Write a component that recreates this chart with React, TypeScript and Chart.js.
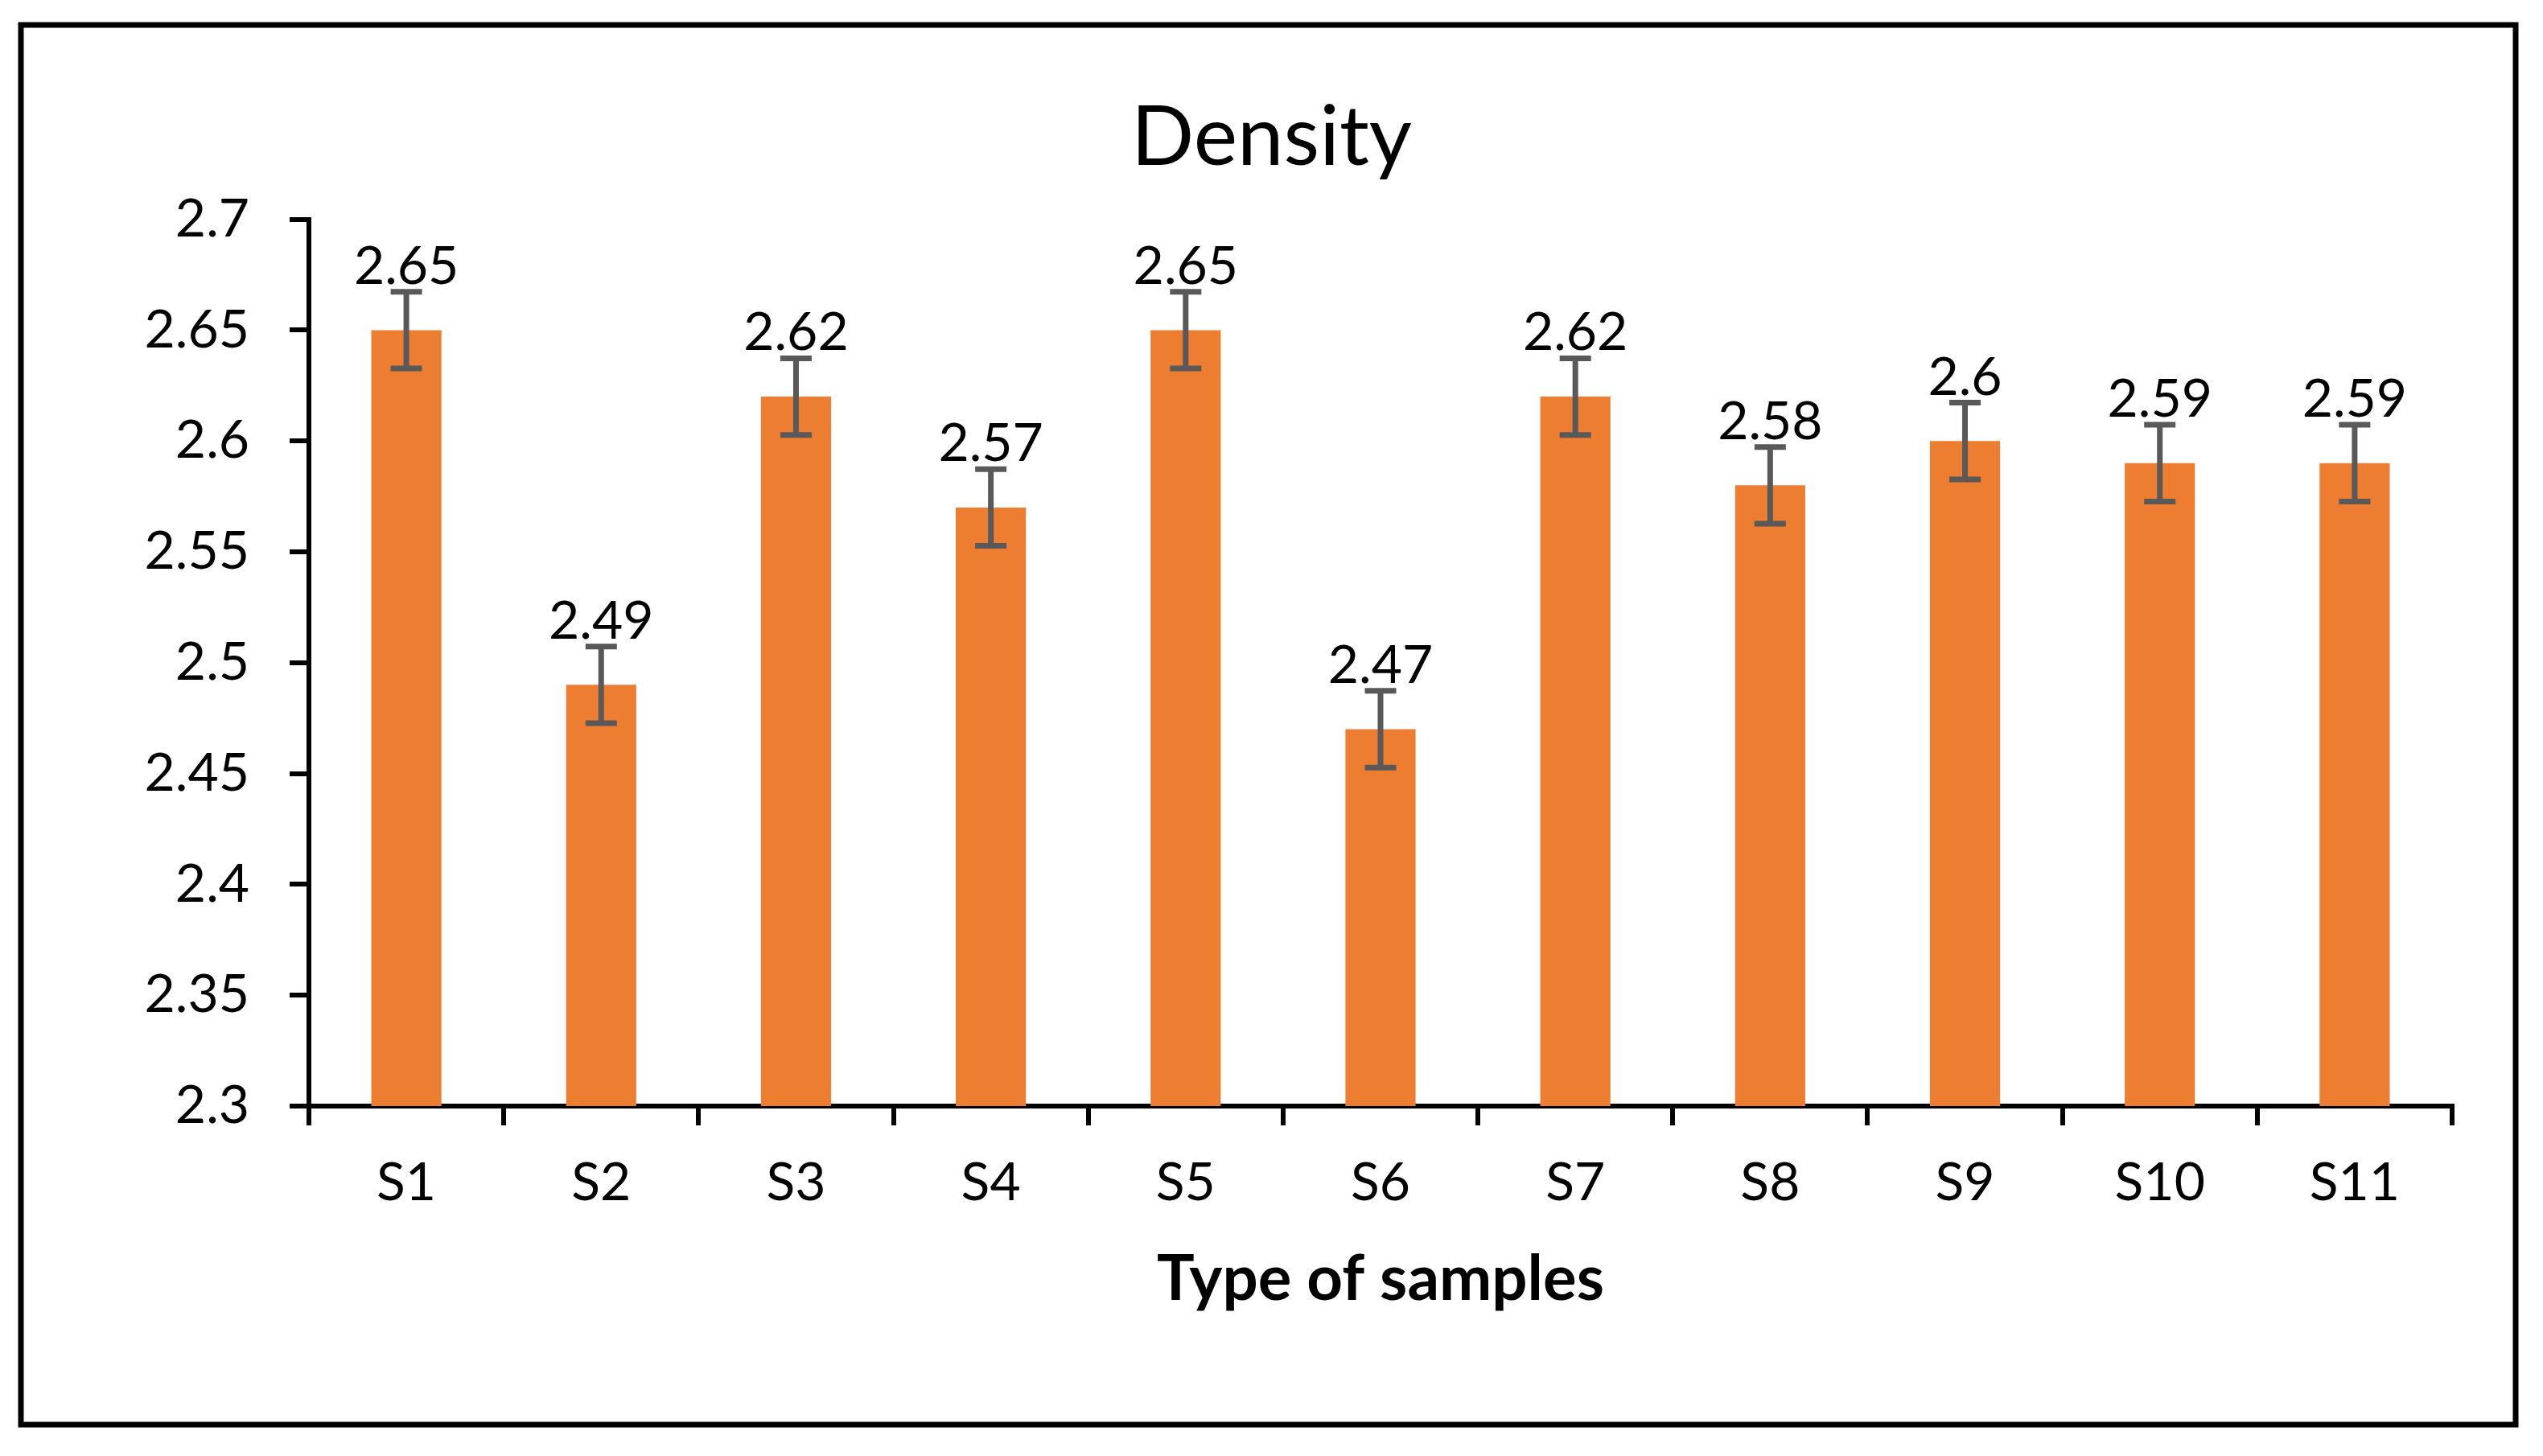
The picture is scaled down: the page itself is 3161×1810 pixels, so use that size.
import React, { useEffect, useRef } from "react";
import { Chart, registerables } from "chart.js";

Chart.register(...registerables);

const categories = ["S1", "S2", "S3", "S4", "S5", "S6", "S7", "S8", "S9", "S10", "S11"];
const densityValues = [2.65, 2.49, 2.62, 2.57, 2.65, 2.47, 2.62, 2.58, 2.6, 2.59, 2.59];
const errorValues = [0.0173, 0.0173, 0.0173, 0.0173, 0.0173, 0.0173, 0.0173, 0.0173, 0.0173, 0.0173, 0.0173];
const yMin = 2.3;
const yMax = 2.7;
const yStep = 0.05;
const chartTitle = "Density";
const xAxisTitle = "Type of samples";

const FONT = "Lato, 'Open Sans', sans-serif";

const errorBarPlugin = {
  id: "errorBars",
  afterDatasetsDraw(chart: any) {
    const ctx = chart.ctx;
    const meta = chart.getDatasetMeta(0);
    const y = chart.scales.y;
    ctx.save();
    ctx.strokeStyle = "#595959";
    ctx.lineWidth = 7;
    ctx.lineCap = "butt";
    meta.data.forEach((bar: any, i: number) => {
      const v = densityValues[i];
      const e = errorValues[i];
      const yt = y.getPixelForValue(v + e);
      const yb = y.getPixelForValue(v - e);
      const x = bar.x;
      const hw = 19.5;
      ctx.beginPath();
      ctx.moveTo(x, yt);
      ctx.lineTo(x, yb);
      ctx.moveTo(x - hw, yt);
      ctx.lineTo(x + hw, yt);
      ctx.moveTo(x - hw, yb);
      ctx.lineTo(x + hw, yb);
      ctx.stroke();
    });
    ctx.fillStyle = "#000000";
    ctx.font = `66px ${FONT}`;
    ctx.textAlign = "center";
    ctx.textBaseline = "alphabetic";
    meta.data.forEach((bar: any, i: number) => {
      const v = densityValues[i];
      const e = errorValues[i];
      const yt = y.getPixelForValue(v + e);
      ctx.fillText(String(v), bar.x, yt - 10);
    });
    ctx.restore();
  },
};

const framePlugin = {
  id: "frame",
  beforeDraw(chart: any) {
    const ctx = chart.ctx;
    ctx.save();
    ctx.fillStyle = "#ffffff";
    ctx.fillRect(0, 0, chart.width, chart.height);
    ctx.restore();
  },
  afterDraw(chart: any) {
    const ctx = chart.ctx;
    ctx.save();
    ctx.strokeStyle = "#000000";
    ctx.lineWidth = 7;
    ctx.strokeRect(26, 31, 3127 - 26, 1771 - 31);
    ctx.restore();
  },
};

export default function App() {
  const canvasRef = useRef<HTMLCanvasElement | null>(null);

  useEffect(() => {
    document.body.style.margin = "0";
    const canvas = canvasRef.current;
    if (!canvas) return;
    const chart = new Chart(canvas, {
      type: "bar",
      data: {
        labels: categories,
        datasets: [
          {
            data: densityValues,
            backgroundColor: "#ED7D31",
            borderWidth: 0,
            barPercentage: 0.36,
            categoryPercentage: 1,
          },
        ],
      },
      options: {
        animation: false,
        responsive: true,
        maintainAspectRatio: false,
        layout: { padding: { left: 113, right: 113, top: 0, bottom: 0 } },
        plugins: {
          legend: { display: false },
          tooltip: { enabled: false },
          title: {
            display: true,
            text: chartTitle,
            color: "#000000",
            font: { family: FONT, size: 103, weight: "normal", lineHeight: 1.2 },
            padding: { top: 110, bottom: 39 },
          },
        },
        scales: {
          x: {
            type: "category",
            offset: true,
            grid: {
              offset: true,
              display: true,
              drawOnChartArea: false,
              drawTicks: true,
              tickLength: 24,
              lineWidth: 6,
              color: "#000000",
            },
            border: { display: true, color: "#000000", width: 6 },
            ticks: {
              color: "#000000",
              font: { family: FONT, size: 66, lineHeight: 1.2 },
              padding: 32,
              maxRotation: 0,
              autoSkip: false,
            },
            title: {
              display: true,
              text: xAxisTitle,
              color: "#000000",
              font: { family: FONT, size: 78, weight: "bold", lineHeight: 1.2 },
              padding: { top: 0, bottom: 172 },
            },
            afterFit: (scale: any) => {
              scale.height = 435;
            },
          },
          y: {
            type: "linear",
            min: yMin,
            max: yMax,
            grid: {
              display: true,
              drawOnChartArea: false,
              drawTicks: true,
              tickLength: 24,
              lineWidth: 6,
              color: "#000000",
            },
            border: { display: true, color: "#000000", width: 6 },
            ticks: {
              stepSize: yStep,
              color: "#000000",
              font: { family: FONT, size: 66, lineHeight: 1.2 },
              padding: 50,
              callback: (v: any) => String(Math.round(Number(v) * 100) / 100),
            },
            afterFit: (scale: any) => {
              scale.width = 384 - 113;
            },
          },
        },
      },
      plugins: [framePlugin, errorBarPlugin],
    });
    return () => chart.destroy();
  }, []);

  return (
    <div style={{ position: "absolute", left: 0, top: 0, width: 3161, height: 1810, background: "#fff" }}>
      <canvas ref={canvasRef} />
    </div>
  );
}
